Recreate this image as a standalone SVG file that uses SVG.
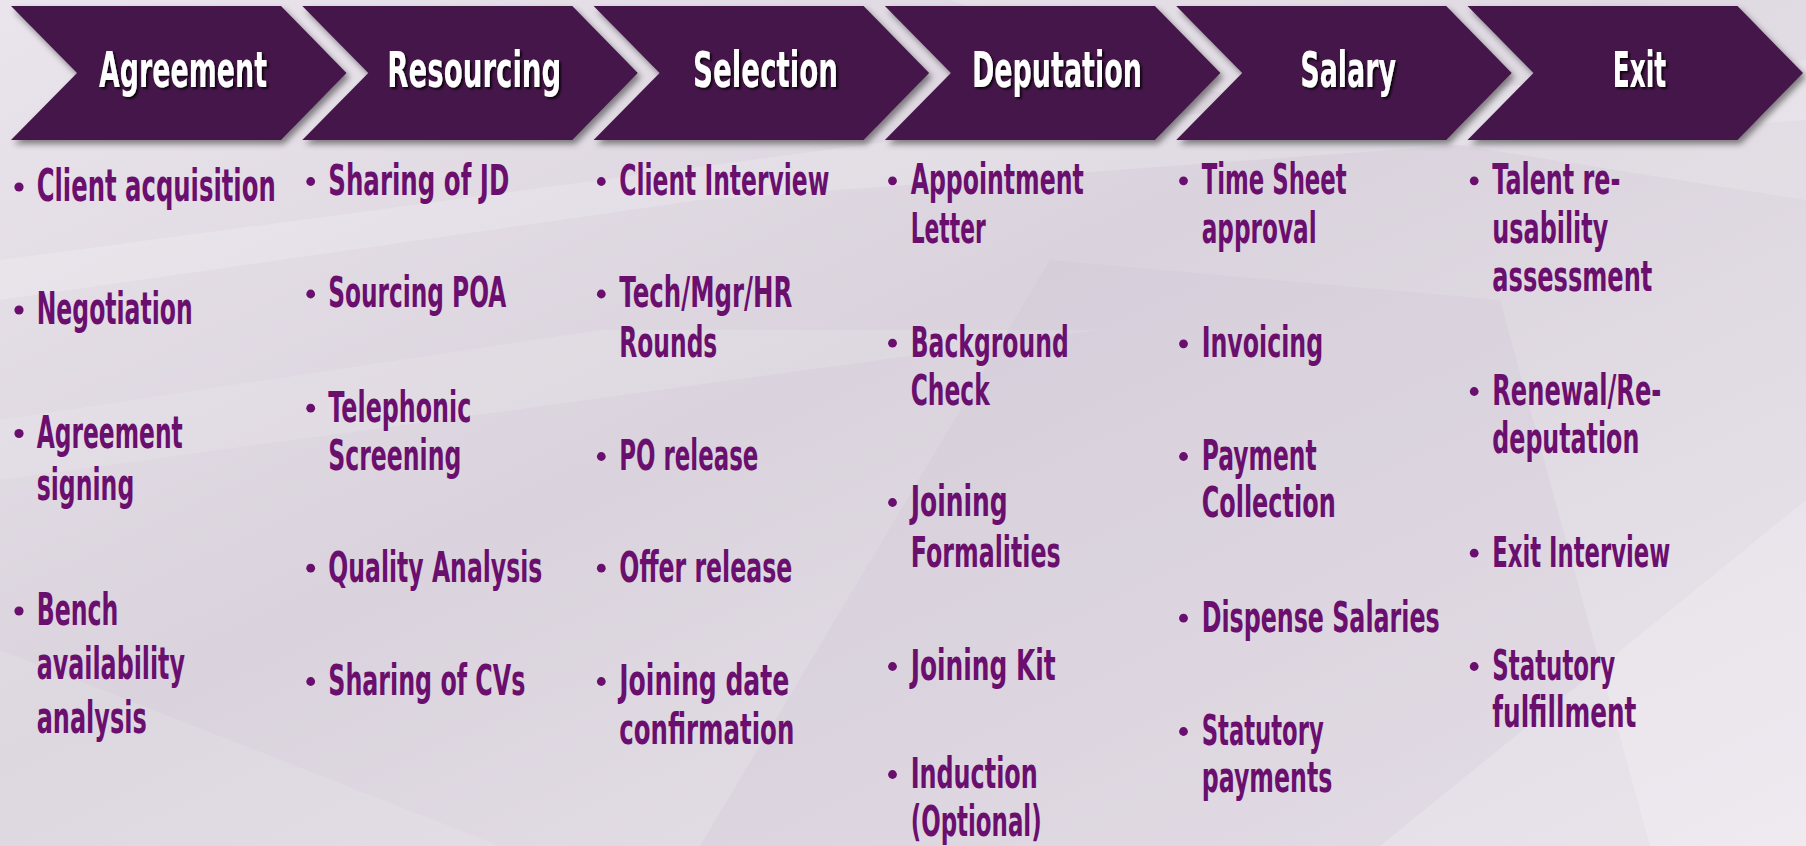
<svg xmlns="http://www.w3.org/2000/svg" width="1806" height="846" viewBox="0 0 1806 846">
<defs>
  <linearGradient id="bg" x1="0" y1="0" x2="1" y2="1">
    <stop offset="0" stop-color="#EAE4EC"/>
    <stop offset="0.45" stop-color="#DAD3DD"/>
    <stop offset="1" stop-color="#EAE5EC"/>
  </linearGradient>
  <filter id="chevShadow" x="-5%" y="-10%" width="115%" height="130%">
    <feDropShadow dx="3" dy="4" stdDeviation="3" flood-color="#000" flood-opacity="0.45"/>
  </filter>
  <filter id="txtShadow" x="-10%" y="-20%" width="130%" height="150%">
    <feDropShadow dx="4" dy="2" stdDeviation="2 1" flood-color="#000" flood-opacity="0.8"/>
  </filter>
  <path id="chev" d="M0,6 L270,6 L335.5,73 L270,140 L0,140 L66,73 Z"/>
  <style>
    .chev { fill:#45164A; filter:url(#chevShadow); }
    .title { font-family:"DejaVu Sans","Liberation Sans",sans-serif; font-weight:bold; font-size:49px; fill:#FFFFFF; text-anchor:middle; filter:url(#txtShadow); }
    .item { font-family:"DejaVu Sans","Liberation Sans",sans-serif; font-weight:bold; font-size:43px; fill:#6A0F6E; }
    .item1 { font-size:45px; }
    .dot { fill:#6A0F6E; }
  </style>
</defs>

<rect x="0" y="0" width="1806" height="846" fill="url(#bg)"/>
<g id="background-shapes">
  <polygon points="0,300 700,200 1806,120 1806,60 900,140 0,260" fill="#FFFFFF" opacity="0.18"/>
  <polygon points="0,420 600,330 1100,330 0,480" fill="#FFFFFF" opacity="0.12"/>
  <polygon points="700,846 1050,260 1500,300 1650,846" fill="#C8BFCC" opacity="0.18"/>
  <polygon points="1380,846 1806,500 1806,846" fill="#FFFFFF" opacity="0.2"/>
  <polygon points="0,846 0,650 500,846" fill="#FFFFFF" opacity="0.1"/>
  <polygon points="950,0 1806,0 1806,200 1300,120" fill="#FFFFFF" opacity="0.15"/>
</g>

<g id="connectors"></g>

<g id="node-agreement">
  <use href="#chev" x="11" class="chev"/>
  <circle class="dot" cx="19" cy="187" r="4.6"/>
  <circle class="dot" cx="19" cy="310" r="4.6"/>
  <circle class="dot" cx="19" cy="433.5" r="4.6"/>
  <circle class="dot" cx="19" cy="611" r="4.6"/>
  <g transform="scale(0.5 1)">
    <text class="title" x="366" y="87" textLength="336" lengthAdjust="spacingAndGlyphs">Agreement</text>
    <text class="item item1" x="73.4" y="201" textLength="478" lengthAdjust="spacingAndGlyphs">Client acquisition</text>
    <text class="item item1" x="73.4" y="324" textLength="312" lengthAdjust="spacingAndGlyphs">Negotiation</text>
    <text class="item item1" x="73.4" y="447.7" textLength="292" lengthAdjust="spacingAndGlyphs">Agreement</text>
    <text class="item item1" x="73.4" y="500" textLength="195.2" lengthAdjust="spacingAndGlyphs">signing</text>
    <text class="item item1" x="73.4" y="625" textLength="163.2" lengthAdjust="spacingAndGlyphs">Bench</text>
    <text class="item item1" x="73.4" y="679" textLength="296.6" lengthAdjust="spacingAndGlyphs">availability</text>
    <text class="item item1" x="73.4" y="733" textLength="220" lengthAdjust="spacingAndGlyphs">analysis</text>
  </g>
</g>

<g id="node-resourcing">
  <use href="#chev" x="302.3" class="chev"/>
  <circle class="dot" cx="310.7" cy="181.5" r="4.4"/>
  <circle class="dot" cx="310.7" cy="294" r="4.4"/>
  <circle class="dot" cx="310.7" cy="408.2" r="4.4"/>
  <circle class="dot" cx="310.7" cy="568.2" r="4.4"/>
  <circle class="dot" cx="310.7" cy="681.5" r="4.4"/>
  <g transform="scale(0.5 1)">
    <text class="title" x="948.6" y="87" textLength="348" lengthAdjust="spacingAndGlyphs">Resourcing</text>
    <text class="item" x="656.6" y="195" textLength="362" lengthAdjust="spacingAndGlyphs">Sharing of JD</text>
    <text class="item" x="656.6" y="307.3" textLength="356" lengthAdjust="spacingAndGlyphs">Sourcing POA</text>
    <text class="item" x="656.6" y="421.7" textLength="286" lengthAdjust="spacingAndGlyphs">Telephonic</text>
    <text class="item" x="656.6" y="470" textLength="266" lengthAdjust="spacingAndGlyphs">Screening</text>
    <text class="item" x="656.6" y="581.7" textLength="428" lengthAdjust="spacingAndGlyphs">Quality Analysis</text>
    <text class="item" x="656.6" y="695" textLength="394" lengthAdjust="spacingAndGlyphs">Sharing of CVs</text>
  </g>
</g>

<g id="node-selection">
  <use href="#chev" x="593.6" class="chev"/>
  <circle class="dot" cx="601.3" cy="181.5" r="4.4"/>
  <circle class="dot" cx="601.3" cy="294" r="4.4"/>
  <circle class="dot" cx="601.3" cy="456.5" r="4.4"/>
  <circle class="dot" cx="601.3" cy="568.2" r="4.4"/>
  <circle class="dot" cx="601.3" cy="681.5" r="4.4"/>
  <g transform="scale(0.5 1)">
    <text class="title" x="1531.2" y="87" textLength="290" lengthAdjust="spacingAndGlyphs">Selection</text>
    <text class="item" x="1238.6" y="195" textLength="420" lengthAdjust="spacingAndGlyphs">Client Interview</text>
    <text class="item" x="1238.6" y="307.3" textLength="346" lengthAdjust="spacingAndGlyphs">Tech/Mgr/HR</text>
    <text class="item" x="1238.6" y="356.7" textLength="196" lengthAdjust="spacingAndGlyphs">Rounds</text>
    <text class="item" x="1238.6" y="470" textLength="278" lengthAdjust="spacingAndGlyphs">PO release</text>
    <text class="item" x="1238.6" y="581.7" textLength="346" lengthAdjust="spacingAndGlyphs">Offer release</text>
    <text class="item" x="1238.6" y="695" textLength="340" lengthAdjust="spacingAndGlyphs">Joining date</text>
    <text class="item" x="1238.6" y="744.3" textLength="350" lengthAdjust="spacingAndGlyphs">confirmation</text>
  </g>
</g>

<g id="node-deputation">
  <use href="#chev" x="884.9" class="chev"/>
  <circle class="dot" cx="892.5" cy="180.8" r="4.4"/>
  <circle class="dot" cx="892.5" cy="343.2" r="4.4"/>
  <circle class="dot" cx="892.5" cy="502.5" r="4.4"/>
  <circle class="dot" cx="892.5" cy="666.5" r="4.4"/>
  <circle class="dot" cx="892.5" cy="774.5" r="4.4"/>
  <g transform="scale(0.5 1)">
    <text class="title" x="2113.8" y="87" textLength="340" lengthAdjust="spacingAndGlyphs">Deputation</text>
    <text class="item" x="1821.4" y="194.3" textLength="346" lengthAdjust="spacingAndGlyphs">Appointment</text>
    <text class="item" x="1821.4" y="243.3" textLength="150" lengthAdjust="spacingAndGlyphs">Letter</text>
    <text class="item" x="1821.4" y="356.7" textLength="316" lengthAdjust="spacingAndGlyphs">Background</text>
    <text class="item" x="1821.4" y="405" textLength="158" lengthAdjust="spacingAndGlyphs">Check</text>
    <text class="item" x="1821.4" y="516" textLength="194" lengthAdjust="spacingAndGlyphs">Joining</text>
    <text class="item" x="1821.4" y="566.7" textLength="300" lengthAdjust="spacingAndGlyphs">Formalities</text>
    <text class="item" x="1821.4" y="680" textLength="290" lengthAdjust="spacingAndGlyphs">Joining Kit</text>
    <text class="item" x="1821.4" y="788" textLength="254" lengthAdjust="spacingAndGlyphs">Induction</text>
    <text class="item" x="1821.4" y="836.5" textLength="262" lengthAdjust="spacingAndGlyphs">(Optional)</text>
  </g>
</g>

<g id="node-salary">
  <use href="#chev" x="1176.2" class="chev"/>
  <circle class="dot" cx="1183.5" cy="180.8" r="4.4"/>
  <circle class="dot" cx="1183.5" cy="343.8" r="4.4"/>
  <circle class="dot" cx="1183.5" cy="456.5" r="4.4"/>
  <circle class="dot" cx="1183.5" cy="618.2" r="4.4"/>
  <circle class="dot" cx="1183.5" cy="731.5" r="4.4"/>
  <g transform="scale(0.5 1)">
    <text class="title" x="2696.4" y="87" textLength="192" lengthAdjust="spacingAndGlyphs">Salary</text>
    <text class="item" x="2403.4" y="194.3" textLength="290" lengthAdjust="spacingAndGlyphs">Time Sheet</text>
    <text class="item" x="2403.4" y="243.3" textLength="230" lengthAdjust="spacingAndGlyphs">approval</text>
    <text class="item" x="2403.4" y="357.3" textLength="243" lengthAdjust="spacingAndGlyphs">Invoicing</text>
    <text class="item" x="2403.4" y="470" textLength="230" lengthAdjust="spacingAndGlyphs">Payment</text>
    <text class="item" x="2403.4" y="517.3" textLength="268" lengthAdjust="spacingAndGlyphs">Collection</text>
    <text class="item" x="2403.4" y="631.7" textLength="476" lengthAdjust="spacingAndGlyphs">Dispense Salaries</text>
    <text class="item" x="2403.4" y="745" textLength="244" lengthAdjust="spacingAndGlyphs">Statutory</text>
    <text class="item" x="2403.4" y="791.7" textLength="261.2" lengthAdjust="spacingAndGlyphs">payments</text>
  </g>
</g>

<g id="node-exit">
  <use href="#chev" x="1467.5" class="chev"/>
  <circle class="dot" cx="1474.2" cy="180.8" r="4.4"/>
  <circle class="dot" cx="1474.2" cy="391.5" r="4.4"/>
  <circle class="dot" cx="1474.2" cy="553.2" r="4.4"/>
  <circle class="dot" cx="1474.2" cy="666.5" r="4.4"/>
  <g transform="scale(0.5 1)">
    <text class="title" x="3279" y="87" textLength="107" lengthAdjust="spacingAndGlyphs">Exit</text>
    <text class="item" x="2984.6" y="194.3" textLength="256" lengthAdjust="spacingAndGlyphs">Talent re-</text>
    <text class="item" x="2984.6" y="243.3" textLength="232" lengthAdjust="spacingAndGlyphs">usability</text>
    <text class="item" x="2984.6" y="290.7" textLength="320" lengthAdjust="spacingAndGlyphs">assessment</text>
    <text class="item" x="2984.6" y="405" textLength="338" lengthAdjust="spacingAndGlyphs">Renewal/Re-</text>
    <text class="item" x="2984.6" y="453.3" textLength="294" lengthAdjust="spacingAndGlyphs">deputation</text>
    <text class="item" x="2984.6" y="566.7" textLength="356" lengthAdjust="spacingAndGlyphs">Exit Interview</text>
    <text class="item" x="2984.6" y="680" textLength="246" lengthAdjust="spacingAndGlyphs">Statutory</text>
    <text class="item" x="2984.6" y="726.7" textLength="288" lengthAdjust="spacingAndGlyphs">fulfillment</text>
  </g>
</g>
</svg>
